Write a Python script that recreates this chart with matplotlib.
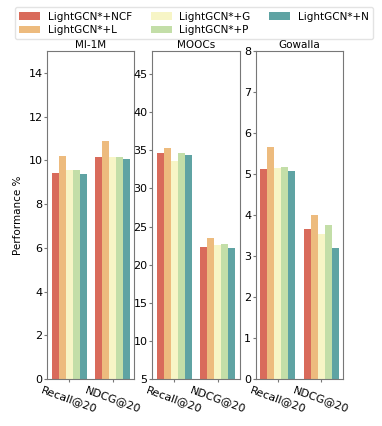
import matplotlib
matplotlib.use("Agg")
import matplotlib.pyplot as plt
import numpy as np

datasets = ["Ml-1M", "MOOCs", "Gowalla"]
metrics = ["Recall@20", "NDCG@20"]
methods = ["LightGCN*+NCF", "LightGCN*+L", "LightGCN*+G", "LightGCN*+P", "LightGCN*+N"]
colors = ["#d96b5b", "#edbb7e", "#f7f5c6", "#c3dea8", "#5fa3a3"]

# values[dataset][method] = [Recall@20, NDCG@20]
ml1m = {
    "LightGCN*+NCF": [9.42, 10.14],
    "LightGCN*+L": [10.21, 10.88],
    "LightGCN*+G": [9.56, 10.18],
    "LightGCN*+P": [9.58, 10.15],
    "LightGCN*+N": [9.37, 10.05],
}
moocs = {
    "LightGCN*+NCF": [34.6, 22.27],
    "LightGCN*+L": [35.26, 23.5],
    "LightGCN*+G": [33.6, 22.57],
    "LightGCN*+P": [34.6, 22.66],
    "LightGCN*+N": [34.4, 22.2],
}
gowalla = {
    "LightGCN*+NCF": [5.12, 3.67],
    "LightGCN*+L": [5.66, 4.0],
    "LightGCN*+G": [5.15, 3.55],
    "LightGCN*+P": [5.17, 3.75],
    "LightGCN*+N": [5.07, 3.21],
}
all_data = [ml1m, moocs, gowalla]
ylims = [(0, 15), (5, 48), (0, 8)]
yticks = [[0, 2, 4, 6, 8, 10, 12, 14], [5, 10, 15, 20, 25, 30, 35, 40, 45], [0, 1, 2, 3, 4, 5, 6, 7, 8]]

FS = 7.5
TFS = 8
fig = plt.figure(figsize=(3.82, 4.26), dpi=100)
lefts = [0.124, 0.399, 0.670]
width_ax = 0.228
bottom, top = 0.110, 0.880

x = np.arange(len(metrics))
bw = 0.16
handles = []
for i, (ds, data) in enumerate(zip(datasets, all_data)):
    ax = fig.add_axes([lefts[i], bottom, width_ax, top - bottom])
    for j, m in enumerate(methods):
        b = ax.bar(x + (j - 2) * bw, data[m], bw, color=colors[j], label=m,
                   linewidth=0)
        if i == 0:
            handles.append(b)
    ax.set_ylim(*ylims[i])
    ax.set_yticks(yticks[i])
    ax.set_xlim(-0.5, 1.5)
    ax.set_xticks(x)
    ax.set_xticklabels(metrics, rotation=-20, ha="center", fontsize=TFS)
    ax.tick_params(axis="y", labelsize=TFS, length=2, pad=1.5, color="#777777")
    ax.tick_params(axis="x", length=2, pad=2, color="#777777")
    ax.set_title(ds, fontsize=FS, pad=2)
    for s in ax.spines.values():
        s.set_color("#777777")
    if i == 0:
        ax.set_ylabel("Performance %", fontsize=FS, labelpad=4)

fig.legend(handles, methods, loc="upper center", bbox_to_anchor=(0.508, 0.995),
           ncol=3, fontsize=FS, frameon=True, edgecolor="#dddddd",
           handlelength=2.0, columnspacing=1.8, handletextpad=0.75, borderpad=0.4,
           labelspacing=0.35)

fig.savefig("out.png", dpi=100)
